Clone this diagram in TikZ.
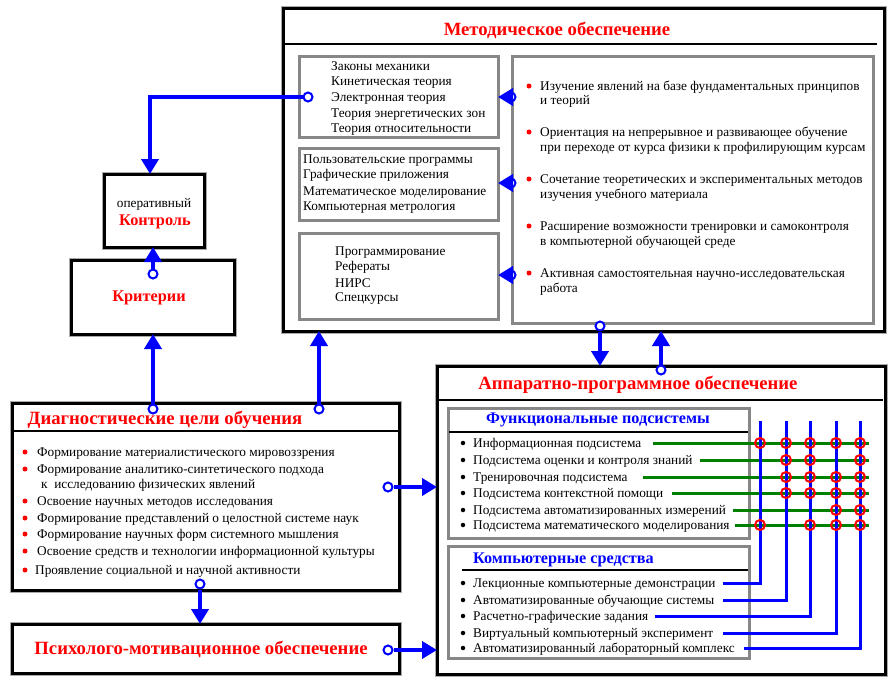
\documentclass[tikz,border=0pt]{standalone}
\usepackage{fontspec}
\setmainfont{Liberation Serif}
\usetikzlibrary{arrows.meta}
\definecolor{cred}{RGB}{255,0,0}
\definecolor{cblue}{RGB}{0,0,255}
\definecolor{cgreen}{RGB}{0,128,0}
\definecolor{cgray}{RGB}{135,135,135}
\definecolor{chalo}{RGB}{170,170,170}
\tikzset{
  outerbox/.style={draw=black, line width=3pt, anchor=north west, inner sep=0pt, outer sep=0pt, fill=white, preaction={draw=chalo, line width=5pt}},
  innerbox/.style={draw=cgray, line width=3pt, anchor=north west, inner sep=0pt, outer sep=0pt},
  txt/.style={anchor=base west, inner sep=0pt, font=\fontsize{13.3}{15}\selectfont},
  rtitle/.style={anchor=base, inner sep=0pt, text=cred, font=\fontsize{18.7}{20}\selectfont\bfseries},
  rtitlesm/.style={anchor=base, inner sep=0pt, text=cred, font=\fontsize{16.3}{18}\selectfont\bfseries},
  btitle/.style={inner sep=0pt, text=cblue, font=\fontsize{16.2}{18}\selectfont\bfseries},
  conn/.style={draw=cblue, line width=4pt, -{Triangle[length=15pt,width=17pt]}},
  ring/.style={circle, draw=cblue, line width=2pt, fill=white, minimum size=9pt, inner sep=0pt},
  rdot/.style={circle, fill=cred, minimum size=5pt, inner sep=0pt},
  kdot/.style={circle, fill=black, minimum size=4.5pt, inner sep=0pt},
  redring/.style={circle, draw=cred, line width=2pt, minimum size=10pt, inner sep=0pt},
  gline/.style={draw=cgreen, line width=3pt},
  bline/.style={draw=cblue, line width=3pt},
  hline/.style={draw=black, line width=1.2pt},
}
\begin{document}
\begin{tikzpicture}[x=1pt,y=-1pt]
\fill[white] (0,0) rectangle (892,683);
\useasboundingbox (0,0) rectangle (892,683);

% ---------- boxes ----------
\node[outerbox, minimum width=601pt, minimum height=323pt] (meth) at (283,8) {};
\node[innerbox, minimum width=199pt, minimum height=81pt] (mA) at (299,56) {};
\node[innerbox, minimum width=199pt, minimum height=72pt] (mB) at (299,148) {};
\node[innerbox, minimum width=199pt, minimum height=86pt] (mC) at (299,233) {};
\node[innerbox, minimum width=361pt, minimum height=267pt] (mR) at (512,56) {};
\node[outerbox, minimum width=100pt, minimum height=73pt] (ctrl) at (104,174) {};
\node[outerbox, minimum width=163pt, minimum height=74pt] (crit) at (71,260) {};
\node[outerbox, minimum width=387pt, minimum height=187pt] (diag) at (12,403) {};
\node[outerbox, minimum width=387pt, minimum height=49pt] (psy) at (12,624) {};
\node[outerbox, minimum width=448pt, minimum height=308pt] (hw) at (437,366) {};
\node[innerbox, minimum width=301pt, minimum height=130pt] (fs) at (448,408) {};
\node[innerbox, minimum width=301pt, minimum height=112pt] (cs) at (448,546) {};

% title rules
\draw[hline] (285,44) -- (877,44);
\draw[hline] (13,431) -- (398,431);
\draw[hline] (438,400) -- (883,400);
\draw[hline] (449,432) -- (748,432);
\draw[hline] (462,570) -- (748,570);

% ---------- titles ----------
\node[rtitle] (tmeth) at (557,35) {Методическое обеспечение};
\node[rtitle] (tdiag) at (165,424) {Диагностические цели обучения};
\node[rtitle] (tpsy) at (201,654) {Психолого-мотивационное обеспечение};
\node[rtitle] (thw) at (638,389) {Аппаратно-программное обеспечение};
\node[rtitlesm] (tcrit) at (149,301) {Критерии};
\node[rtitlesm] (tctrl) at (155,225) {Контроль};
\node[txt, anchor=base] (tctrl0) at (154,207) {оперативный};
\node[btitle, anchor=base] (tfs) at (598,423) {Функциональные подсистемы};
\node[btitle, anchor=base west] (tcs) at (473,563) {Компьютерные средства};

% ---------- top box texts ----------
\foreach \i/\y/\t in {1/66/{Законы механики},2/81/{Кинетическая теория},3/97/{Электронная теория},4/113/{Теория энергетических зон},5/128/{Теория относительности}}
  \node[txt] (a\i) at (331,\y+4) {\t};
\foreach \i/\y/\t in {1/159/{Пользовательские программы},2/174/{Графические приложения},3/191/{Математическое моделирование},4/206/{Компьютерная метрология}}
  \node[txt] (b\i) at (303,\y+4) {\t};
\foreach \i/\y/\t in {1/251/{Программирование},2/266/{Рефераты},3/283/{НИРС},4/297/{Спецкурсы}}
  \node[txt] (c\i) at (335,\y+4) {\t};
\foreach \i/\y/\t in {1/86/{Изучение явлений на базе фундаментальных принципов},2/132/{Ориентация на непрерывное и развивающее обучение},3/179/{Сочетание теоретических и экспериментальных методов},4/226/{Расширение возможности тренировки и самоконтроля},5/273/{Активная самостоятельная научно-исследовательская}}
  {\node[rdot] (rd\i) at (529,\y) {};
   \node[txt] (r\i) at (540,\y+4) {\t};}
\foreach \i/\y/\t in {1/100/{и теорий},2/147/{при переходе от курса физики к профилирующим курсам},3/194/{изучения учебного материала},4/241/{в компьютерной обучающей среде},5/288/{работа}}
  \node[txt] (rr\i) at (540,\y+4) {\t};

% ---------- diag texts ----------
\foreach \i/\y/\t in {1/452/{Формирование материалистического мировоззрения},2/469/{Формирование аналитико-синтетического подхода},3/501/{Освоение научных методов исследования},4/518/{Формирование представлений о целостной системе наук},5/534/{Формирование научных форм системного мышления},6/551/{Освоение средств и технологии информационной культуры}}
  {\node[rdot] (dd\i) at (25,\y) {};
   \node[txt] (d\i) at (37,\y+4) {\t};}
\node[txt] (d2b) at (41,488) {к\ \ исследованию физических явлений};
\node[rdot] (dd7) at (25,570) {};
\node[txt] (d7) at (35,574) {Проявление социальной и научной активности};

% ---------- hw texts ----------
\foreach \i/\y/\t in {1/443/{Информационная подсистема},2/460/{Подсистема оценки и контроля знаний},3/477/{Тренировочная подсистема},4/493/{Подсистема контекстной помощи},5/510/{Подсистема автоматизированных измерений},6/525/{Подсистема математического моделирования}}
  {\node[kdot] (fd\i) at (463,\y) {};
   \node[txt] (f\i) at (473,\y+4) {\t};}
\foreach \i/\y/\t in {1/583/{Лекционные компьютерные демонстрации},2/600/{Автоматизированные обучающие системы},3/616/{Расчетно-графические задания},4/633/{Виртуальный компьютерный эксперимент},5/648/{Автоматизированный лабораторный комплекс}}
  {\node[kdot] (kd\i) at (463,\y) {};
   \node[txt] (k\i) at (473,\y+4) {\t};}

% ---------- matrix ----------
\foreach \c/\x in {1/760,2/786,3/810,4/836,5/860}
  \coordinate (vt\c) at (\x,421);
\foreach \r/\y/\xs in {1/443/653,2/460/700,3/477/643,4/493/672,5/510/733,6/525/735}
  {\coordinate (gs\r) at (\xs,\y);
   \coordinate (ge\r) at (869,\y);
   \draw[gline] (gs\r) -- (ge\r);}
\foreach \c/\y/\xs in {1/583/723,2/600/723,3/616/655,4/633/723,5/648/744}
  {\coordinate (cs\c) at (\xs,\y);
   \draw[bline] (cs\c) -| (vt\c);}
\foreach \r/\c in {1/1,1/2,1/3,1/4,1/5,2/2,2/3,2/5,3/2,3/3,3/4,3/5,4/2,4/3,4/4,4/5,5/4,5/5,6/1,6/3,6/4,6/5}
  \node[redring] (x\r\c) at (vt\c |- gs\r) {};

% ---------- connectors ----------
\node[ring] (oA) at (308,97) {};
\node[ring] (o1) at (511,97) {};
\node[ring] (o2) at (511,183) {};
\node[ring] (o3) at (511,275) {};
\node[ring] (oK) at (153,274) {};
\node[ring] (oD1) at (153,409) {};
\node[ring] (oD2) at (319,409) {};
\node[ring] (oM) at (600,326) {};
\node[ring] (oH) at (661,370) {};
\node[ring] (oD3) at (388,487) {};
\node[ring] (oD4) at (200,584) {};
\node[ring] (oP) at (388,650) {};

\draw[conn] (oA) -| ([xshift=-4pt]ctrl.north);
\draw[conn] (o1) -- (o1 -| mA.east);
\draw[conn] (o2) -- (o2 -| mB.east);
\draw[conn] (o3) -- (o3 -| mC.east);
\draw[conn] (oK) -- (oK |- ctrl.south);
\draw[conn] (oD1) -- (oD1 |- crit.south);
\draw[conn] (oD2) -- (oD2 |- meth.south);
\draw[conn] (oM) -- (oM |- hw.north);
\draw[conn] (oH) -- (oH |- meth.south);
\draw[conn] (oD3) -- (oD3 -| hw.west);
\draw[conn] (oD4) -- (oD4 |- psy.north);
\draw[conn] (oP) -- (oP -| hw.west);
\end{tikzpicture}
\end{document}
